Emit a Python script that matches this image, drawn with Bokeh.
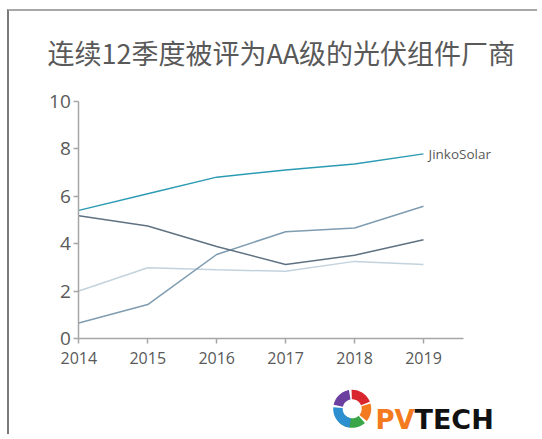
import numpy as np
from bokeh.plotting import figure
from bokeh.models import Range1d, FixedTicker, Label, PolyAnnotation
from bokeh.embed import file_html
from bokeh.resources import INLINE

years = [2014, 2015, 2016, 2017, 2018, 2019]
jinko = [5.4, 6.1, 6.8, 7.1, 7.35, 7.78]
series_dark = [5.17, 4.74, 3.88, 3.12, 3.51, 4.16]
series_mid = [0.65, 1.43, 3.54, 4.5, 4.66, 5.57]
series_light = [2.0, 2.98, 2.9, 2.83, 3.25, 3.12]
y_ticks = [0, 2, 4, 6, 8, 10]
title_text = "连续12季度被评为AA级的光伏组件厂商"
jinko_name = "JinkoSolar"

W, H = 530, 425
px_per_year = 68.94
px_per_unit = 23.73
x0 = 2014 - (78.3 - 9) / px_per_year
y0 = -(436 - 338) / px_per_unit

p = figure(width=W, height=H, output_backend="svg", toolbar_location=None,
           x_range=Range1d(x0, x0 + W / px_per_year), y_range=Range1d(y0, y0 + H / px_per_unit),
           min_border=0,
           styles={"margin-left": "7px", "margin-top": "9px",
                   "border-top": "2px solid #a8a8a8", "border-left": "2px solid #7a7a7a"})
p.outline_line_color = None
p.xgrid.visible = False
p.ygrid.visible = False
p.background_fill_color = "white"
p.border_fill_color = "white"

for ax in (p.xaxis[0], p.yaxis[0]):
    ax.axis_line_color = "#a6a6a6"
    ax.axis_line_width = 1.5
    ax.major_tick_line_color = "#a6a6a6"
    ax.major_tick_line_width = 1.5
    ax.major_tick_out = 5
    ax.major_tick_in = 0
    ax.minor_tick_line_color = None
    ax.major_label_text_color = "#595959"
    ax.major_label_text_font = "Open Sans"

p.xaxis.ticker = FixedTicker(ticks=years)
p.xaxis.fixed_location = 0
p.xaxis.bounds = (2014, 2019.575)
p.xaxis.major_label_text_font_size = "16px"
p.xaxis.major_label_standoff = 8
p.yaxis.ticker = FixedTicker(ticks=y_ticks)
p.yaxis.fixed_location = 2014
p.yaxis.bounds = (0, 10)
p.yaxis.major_label_text_font_size = "19px"
p.yaxis.major_label_standoff = 3

p.line(years, series_light, line_color="#c3d3de", line_width=1.5)
p.line(years, series_mid, line_color="#7f9cb0", line_width=1.5)
p.line(years, series_dark, line_color="#607282", line_width=1.5)
p.line(years, jinko, line_color="#2b9bb3", line_width=1.5)

p.add_layout(Label(x=years[-1], y=jinko[-1], text=jinko_name, x_offset=5,
                   text_baseline="middle", text_font="Open Sans", text_font_size="13.5px",
                   text_color="#595959"))

# title (screen units from the canvas bottom-left)
p.add_layout(Label(x=38, y=384, x_units="screen", y_units="screen", text=title_text,
                   text_baseline="middle", text_font="Noto Sans CJK SC", text_font_size="27px",
                   text_color="#595959"))

# PVTECH logo (decoration)
cx, cy, r_out, r_in = 342.7, 27.7, 19.0, 9.5
segments = [(100, 168, "#6b3fa0"), (22, 92, "#d9262e"), (-40, 16, "#f47a20"),
            (-135, -48, "#3aa648"), (175, 262, "#2c8fd0")]
for a0, a1, col in segments:
    t = np.radians(np.linspace(a0, a1, 20))
    xs = np.concatenate([cx + r_out * np.cos(t), cx + r_in * np.cos(t[::-1])])
    ys = np.concatenate([cy + r_out * np.sin(t), cy + r_in * np.sin(t[::-1])])
    p.add_layout(PolyAnnotation(xs=list(xs), ys=list(ys), xs_units="screen", ys_units="screen",
                                fill_color=col, fill_alpha=1, line_color=None))
p.add_layout(Label(x=366, y=17, x_units="screen", y_units="screen", text="PV",
                   text_font="DejaVu Sans", text_font_style="bold", text_font_size="26px",
                   text_color="#f47a20", text_baseline="alphabetic"))
p.add_layout(Label(x=405, y=17, x_units="screen", y_units="screen", text="TECH",
                   text_font="DejaVu Sans", text_font_style="bold", text_font_size="27px",
                   text_color="#111111", text_baseline="alphabetic"))

open("out.html", "w").write(file_html(p, INLINE))
